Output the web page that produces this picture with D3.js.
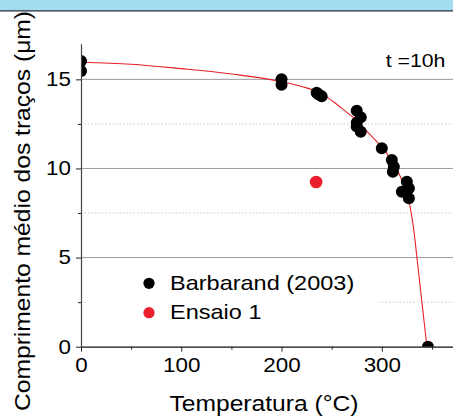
<!DOCTYPE html>
<html>
<head>
<meta charset="utf-8">
<script src="https://cdn.jsdelivr.net/npm/d3@7"></script>
<style>
  html, body { margin: 0; padding: 0; background: #fff; }
  svg { display: block; }
  text { font-family: "Liberation Sans", Arial, Helvetica, sans-serif; fill: #000; }
</style>
</head>
<body>
<script>
// ---- data ----
const barbT = [0, 0, 200, 200, 235, 237, 240, 275, 279, 275, 275, 279, 300, 310, 312, 311, 325, 327, 320, 327, 346];
const barbL = [16.03, 15.47, 15.0, 14.7, 14.25, 14.15, 14.05, 13.24, 12.87, 12.57, 12.35, 12.06, 11.13, 10.48, 10.1, 9.82, 9.26, 8.89, 8.7, 8.33, 0];
const ensaioT = [234.5];
const ensaioL = [9.24];
const fitT = [0, 50, 100, 150, 200, 220, 240, 255, 265, 275, 285, 295, 305, 312, 318, 324, 328, 332, 336, 340, 345];
const fitL = [15.96, 15.85, 15.6, 15.3, 14.87, 14.6, 14.2, 13.6, 13.15, 12.7, 12.1, 11.5, 10.85, 10.2, 9.6, 8.75, 7.9, 6.5, 4.5, 2.5, 0];
const xMajorTicks = [0, 100, 200, 300];
const xMinorTicks = [50, 150, 250, 350];
const yMajorTicks = [0, 5, 10, 15];
const yMinorTicks = [2.5, 7.5, 12.5];
const legendLabels = ["Barbarand (2003)", "Ensaio 1"];
const xTitle = "Temperatura (°C)";
const yTitle = "Comprimento médio dos traços (μm)";
const note = "t =10h";

// ---- layout ----
const W = 453, H = 418;
const SX = 1.12; // horizontal stretch of the original lettering
const svg = d3.select("body").append("svg").attr("width", W).attr("height", H);

const x = d3.scaleLinear().domain([0, 371]).range([81, 453]);
const y = d3.scaleLinear().domain([0, 17]).range([346.7, 43.7]);

// top banner
svg.append("rect").attr("x", 0).attr("y", 0).attr("width", W).attr("height", 10.5).attr("fill", "#a2dcee");
svg.append("line").attr("x1", 0).attr("x2", W).attr("y1", 10.9).attr("y2", 10.9)
  .attr("stroke", "#1c2b38").attr("stroke-width", 1.4);

// grid
svg.append("g").selectAll("line").data(yMajorTicks.filter(d => d > 0)).join("line")
  .attr("x1", x(0)).attr("x2", W).attr("y1", d => y(d)).attr("y2", d => y(d))
  .attr("stroke", "#9a9a9a").attr("stroke-width", 1);
svg.append("g").selectAll("line").data(yMinorTicks).join("line")
  .attr("x1", x(0)).attr("x2", W).attr("y1", d => y(d)).attr("y2", d => y(d))
  .attr("stroke", "#c8c8c8").attr("stroke-width", 1).attr("stroke-dasharray", "1.5,2");

// legend background
const lg = svg.append("g");
lg.append("rect").attr("x", 86).attr("y", 264).attr("width", 293).attr("height", 72).attr("fill", "#fff");

// clip
svg.append("clipPath").attr("id", "plotclip").append("rect")
  .attr("x", x(0)).attr("y", y(17)).attr("width", W - x(0)).attr("height", y(0) - y(17));
const plot = svg.append("g").attr("clip-path", "url(#plotclip)");

// fit line
const fitData = fitT.map((t, i) => [t, fitL[i]]);
plot.append("path").datum(fitData)
  .attr("d", d3.line().x(d => x(d[0])).y(d => y(d[1])).curve(d3.curveMonotoneX))
  .attr("fill", "none").attr("stroke", "#e8202a").attr("stroke-width", 1.1);

// points
plot.append("g").selectAll("circle").data(barbT.map((t, i) => [t, barbL[i]])).join("circle")
  .attr("cx", d => x(d[0])).attr("cy", d => y(d[1])).attr("r", 6).attr("fill", "#000");
plot.append("g").selectAll("circle").data(ensaioT.map((t, i) => [t, ensaioL[i]])).join("circle")
  .attr("cx", d => x(d[0])).attr("cy", d => y(d[1])).attr("r", 6.3).attr("fill", "#ea1f2b");

// axes
const fmt = d3.format("d");
const gx = svg.append("g").attr("transform", `translate(0,${y(0)})`)
  .call(d3.axisBottom(x).tickValues(xMajorTicks).tickSize(5).tickSizeOuter(0).tickPadding(6).tickFormat(fmt));
svg.append("g").attr("transform", `translate(0,${y(0)})`)
  .call(d3.axisBottom(x).tickValues(xMinorTicks).tickSize(3).tickSizeOuter(0).tickFormat(""))
  .select(".domain").remove();
const gy = svg.append("g").attr("transform", `translate(${x(0)},0)`)
  .call(d3.axisLeft(y).tickValues(yMajorTicks).tickSize(5).tickSizeOuter(0).tickPadding(6).tickFormat(fmt));
svg.append("g").attr("transform", `translate(${x(0)},0)`)
  .call(d3.axisLeft(y).tickValues(yMinorTicks).tickSize(3).tickSizeOuter(0).tickFormat(""))
  .select(".domain").remove();

svg.selectAll(".tick line").attr("stroke", "#222");
gx.select(".domain").attr("stroke", "#111").attr("stroke-width", 1.2);
gy.select(".domain").attr("stroke", "#444").attr("stroke-width", 1.2);
gx.selectAll(".tick text").attr("font-size", 20).attr("font-family", "Liberation Sans, Arial, sans-serif")
  .attr("fill", "#000").attr("transform", `scale(${SX},1)`);
gy.selectAll(".tick text").attr("font-size", 20).attr("font-family", "Liberation Sans, Arial, sans-serif")
  .attr("fill", "#000").attr("x", -10 / SX).attr("transform", `scale(${SX},1)`);

// helper for stretched text
function stext(parent, str, px, py, size, anchor, rot) {
  const g = parent.append("g").attr("transform", `translate(${px},${py})` + (rot ? ` rotate(${rot})` : "") + ` scale(${SX},1)`);
  g.append("text").attr("x", 0).attr("y", 0).attr("font-size", size).attr("text-anchor", anchor || "start").text(str);
  return g;
}

// titles
stext(svg, xTitle, 264, 411, 22, "middle");
stext(svg, yTitle, 30, 211, 22, "middle", -90);
stext(svg, note, 385.7, 66.7, 19, "start");

// legend
const legColors = ["#000", "#ea1f2b"];
const legY = [283.3, 312.7];
legendLabels.forEach((lab, i) => {
  lg.append("circle").attr("cx", 149).attr("cy", legY[i]).attr("r", 5.6).attr("fill", legColors[i]);
  stext(lg, lab, 170, legY[i] + 6.6, 21, "start");
});
</script>
</body>
</html>
